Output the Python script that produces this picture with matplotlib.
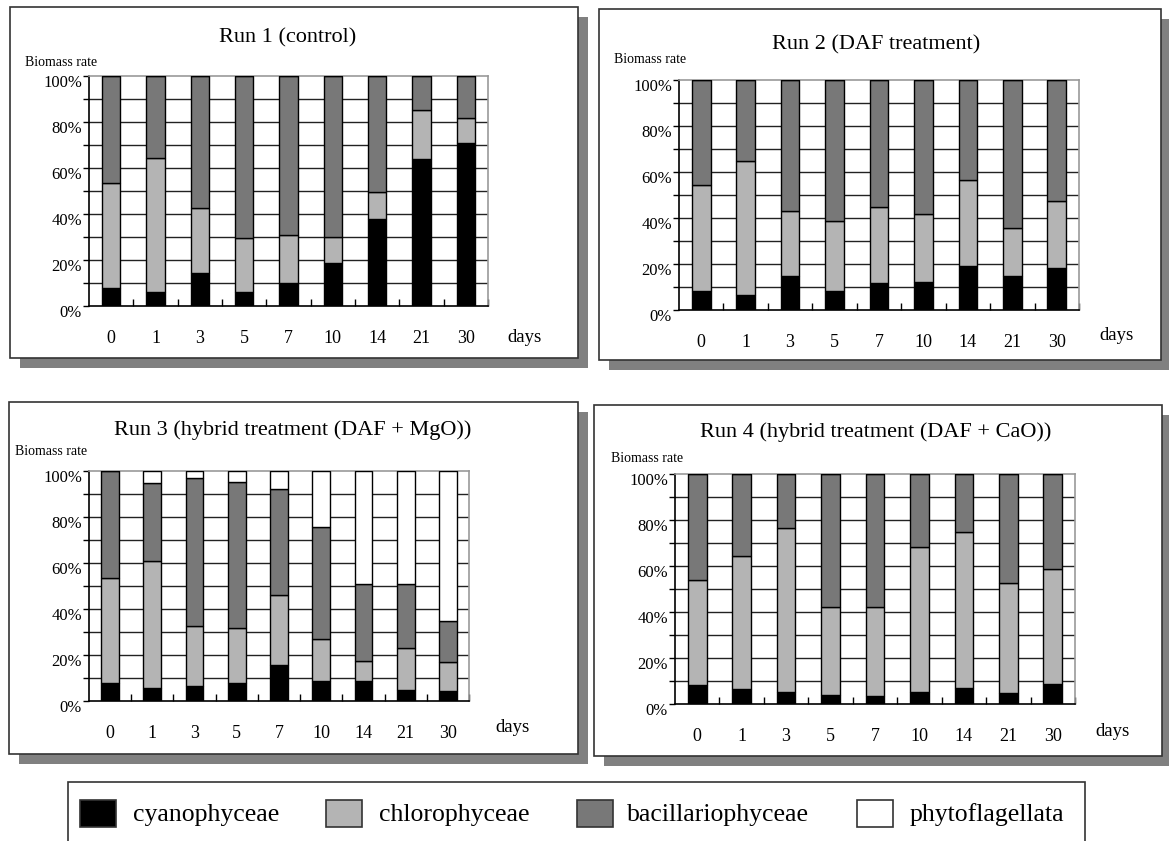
import numpy as np
import matplotlib
matplotlib.use("Agg")
import matplotlib.pyplot as plt
from matplotlib.patches import Rectangle
from matplotlib.transforms import ScaledTranslation

plt.rcParams['font.family'] = ['Liberation Serif', 'DejaVu Serif']

days = ['0', '1', '3', '5', '7', '10', '14', '21', '30']
classes = ['cyanophyceae', 'chlorophyceae', 'bacillariophyceae', 'phytoflagellata']
colors = ['#000000', '#b4b4b4', '#787878', '#ffffff']

# Run 1 (control)
r1_cyan = [8.0, 6.1, 14.3, 6.1, 10.1, 18.6, 38.0, 64.1, 71.0]
r1_chlo = [45.6, 58.2, 28.2, 23.5, 20.6, 11.4, 11.6, 21.1, 10.6]
r1_baci = [46.4, 35.7, 57.5, 70.4, 69.3, 70.0, 50.4, 14.8, 18.4]
r1_phyt = [0, 0, 0, 0, 0, 0, 0, 0, 0]

# Run 2 (DAF treatment)
r2_cyan = [8.3, 6.4, 14.6, 8.3, 11.6, 12.3, 19.3, 14.6, 18.3]
r2_chlo = [45.9, 58.2, 28.3, 30.5, 33.0, 29.3, 37.1, 21.1, 29.2]
r2_baci = [45.8, 35.4, 57.1, 61.2, 55.4, 58.4, 43.6, 64.3, 52.5]
r2_phyt = [0, 0, 0, 0, 0, 0, 0, 0, 0]

# Run 3 (DAF + MgO)
r3_cyan = [8.0, 5.5, 6.7, 8.0, 15.5, 8.6, 8.6, 4.9, 4.3]
r3_chlo = [45.6, 55.4, 25.9, 23.9, 30.6, 18.5, 8.9, 18.1, 12.8]
r3_baci = [46.4, 33.7, 64.2, 63.2, 45.9, 48.4, 33.2, 27.7, 17.7]
r3_phyt = [0, 5.4, 3.2, 4.9, 8.0, 24.5, 49.3, 49.3, 65.2]

# Run 4 (DAF + CaO)
r4_cyan = [8.2, 6.4, 5.2, 4.1, 3.3, 5.2, 6.9, 4.8, 8.7]
r4_chlo = [45.8, 58.1, 71.2, 38.2, 39.0, 63.0, 67.9, 47.9, 50.2]
r4_baci = [46.0, 35.5, 23.6, 57.7, 57.7, 31.8, 25.2, 47.3, 41.1]
r4_phyt = [0, 0, 0, 0, 0, 0, 0, 0, 0]

W, H = 1169, 841
fig = plt.figure(figsize=(W / 100, H / 100), dpi=100)

bg = fig.add_axes([0, 0, 1, 1], zorder=-1)
bg.set_xlim(0, W)
bg.set_ylim(H, 0)
bg.axis('off')


def px_axes(x0, y0, x1, y1):
    return fig.add_axes([x0 / W, 1 - y1 / H, (x1 - x0) / W, (y1 - y0) / H])


def panel(box, plot, title, title_xy, bio_xy, days_xy, series):
    bx0, by0, bx1, by1 = box
    bg.add_patch(Rectangle((bx0 + 10, by0 + 10), bx1 - bx0, by1 - by0,
                           facecolor='#808080', edgecolor='none'))
    bg.add_patch(Rectangle((bx0, by0), bx1 - bx0, by1 - by0,
                           facecolor='white', edgecolor='#333333', lw=1.2))
    bg.text(title_xy[0], title_xy[1], title, fontsize=16, ha='center', va='center')
    bg.text(bio_xy[0], bio_xy[1], 'Biomass rate', fontsize=10, ha='left', va='center')
    bg.text(days_xy[0], days_xy[1], 'days', fontsize=13.5, ha='center', va='center')

    ax = px_axes(*plot)
    x = np.arange(len(days))
    bottom = np.zeros(len(days))
    for vals, c in zip(series, colors):
        vals = np.array(vals)
        ax.bar(x, vals, 0.42, bottom=bottom, color=c, edgecolor='black',
               lw=1.0, zorder=3)
        bottom += vals
    ax.set_xlim(-0.5, len(days) - 0.5)
    ax.set_ylim(0, 100)
    for yv in range(10, 100, 10):
        ax.axhline(yv, color='#222222', lw=1.0, zorder=1)
    ax.set_yticks(range(0, 101, 20))
    ax.set_yticklabels([f'{v}%' for v in range(0, 101, 20)], fontsize=12)
    ax.set_yticks(range(0, 101, 10), minor=True)
    ax.tick_params(axis='y', which='both', direction='out', length=4,
                   width=1, pad=1)
    off = ScaledTranslation(0, -5 / 100, fig.dpi_scale_trans)
    for lab in ax.get_yticklabels():
        lab.set_transform(lab.get_transform() + off)
    ax.set_xticks(x)
    ax.set_xticklabels(days, fontsize=13)
    ax.set_xticks(np.arange(0.5, len(days), 1), minor=True)
    ax.tick_params(axis='x', which='major', length=0, pad=17)
    ax.tick_params(axis='x', which='minor', direction='in', length=5, width=1)
    for s in ['top', 'right']:
        ax.spines[s].set_color('#999999')
        ax.spines[s].set_linewidth(1.2)
    for s in ['left', 'bottom']:
        ax.spines[s].set_color('black')
        ax.spines[s].set_linewidth(1.2)
    return ax


panel((10, 7, 578, 358), (89, 76, 488, 306), 'Run 1 (control)',
      (288, 38), (25, 62), (524, 337),
      [r1_cyan, r1_chlo, r1_baci, r1_phyt])
panel((599, 9, 1161, 360), (679, 80, 1079, 310), 'Run 2 (DAF treatment)',
      (876, 45), (614, 59), (1116, 335),
      [r2_cyan, r2_chlo, r2_baci, r2_phyt])
panel((9, 402, 578, 754), (89, 471, 469, 701), 'Run 3 (hybrid treatment (DAF + MgO))',
      (293, 430), (15, 451), (512, 727),
      [r3_cyan, r3_chlo, r3_baci, r3_phyt])
panel((594, 405, 1162, 756), (675, 474, 1075, 704), 'Run 4 (hybrid treatment (DAF + CaO))',
      (876, 432), (611, 458), (1112, 732),
      [r4_cyan, r4_chlo, r4_baci, r4_phyt])

# legend strip at the bottom (cut off by the figure edge)
bg.add_patch(Rectangle((68, 782), 1085 - 68, 100, facecolor='white',
                       edgecolor='#333333', lw=1.2))
leg_patch_x = [80, 326, 577, 857]
leg_text_x = [133, 379, 627, 910]
for px, tx, c, name in zip(leg_patch_x, leg_text_x, colors, classes):
    bg.add_patch(Rectangle((px, 800), 36, 27, facecolor=c, edgecolor='#333333', lw=1.2))
    bg.text(tx, 815, name, fontsize=18.5, ha='left', va='center')

fig.savefig('out.png', dpi=100)
